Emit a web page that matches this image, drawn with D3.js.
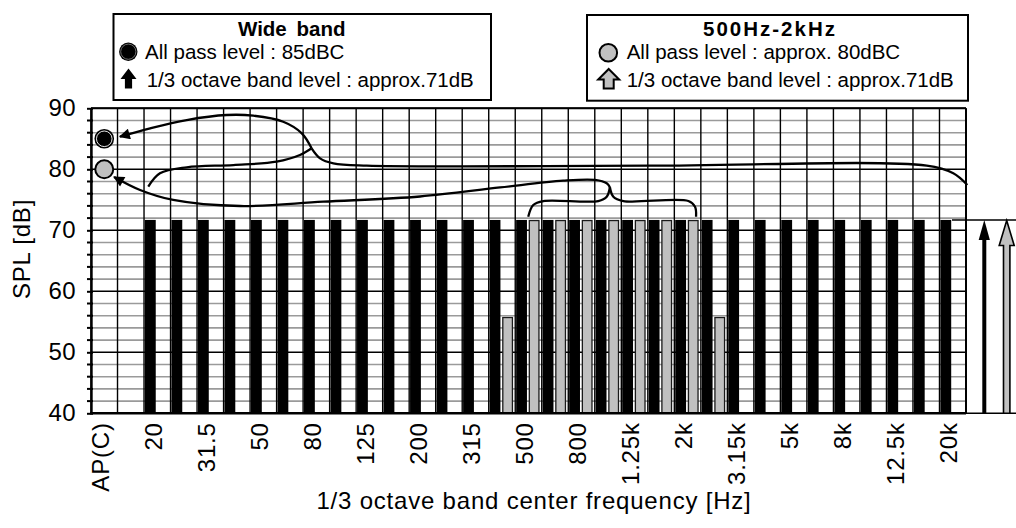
<!DOCTYPE html>
<html><head><meta charset="utf-8">
<script src="https://cdn.jsdelivr.net/npm/d3@7"></script>
<style>
body{margin:0;background:#fff}
svg{display:block}
text{font-family:"Liberation Sans",Arial,Helvetica,sans-serif;fill:#000}
</style>
</head><body>
<svg id="c" width="1016" height="528"></svg>
<script>
// ---------- data ----------
const slots = ["AP(C)", "", "20","25","31.5","40","50","63","80","100","125","160","200","250","315","400","500","630","800","1k","1.25k","1.6k","2k","2.5k","3.15k","4k","5k","6.3k","8k","10k","12.5k","16k","20k"];
const bands = ["20","25","31.5","40","50","63","80","100","125","160","200","250","315","400","500","630","800","1k","1.25k","1.6k","2k","2.5k","3.15k","4k","5k","6.3k","8k","10k","12.5k","16k","20k"];
const tickLabels = ["AP(C)","20","31.5","50","80","125","200","315","500","800","1.25k","2k","3.15k","5k","8k","12.5k","20k"];
const wideBandLevels = [71.7,71.7,71.7,71.7,71.7,71.7,71.7,71.7,71.7,71.7,71.7,71.7,71.7,71.7,71.7,71.7,71.7,71.7,71.7,71.7,71.7,71.7,71.7,71.7,71.7,71.7,71.7,71.7,71.7,71.7,71.7];
const midBandLevels = [null,null,null,null,null,null,null,null,null,null,null,null,null,55.7,71.6,71.6,71.6,71.6,71.6,71.6,71.6,55.7,null,null,null,null,null,null,null,null,null];
const allPassKeys = ["wide","mid"];
const allPassLevels = [85, 80];
const yMajorTicks = [40,50,60,70,80,90];
const yMinorTicks = [42,44,46,48,52,54,56,58,62,64,66,68,72,74,76,78,82,84,86,88];

// annotation curves in (slot position, dB) units
const braceWideLeft = [[2.16,77.15],[2.60,79.34],[3.61,80.33],[5.37,80.70],[7.00,81.25],[7.88,82.34],[8.32,83.44]];
const braceWideRight = [[8.32,83.44],[8.64,81.80],[9.14,80.98],[10.40,80.59],[21.08,80.59],[31.52,80.59],[32.52,79.34],[33.05,77.43]];
const arrowWide = [[8.32,83.44],[7.95,85.90],[7.25,87.80],[6.12,88.79],[5.12,88.90],[3.61,88.08],[2.23,86.72],[1.09,85.34]];
const braceMidLeft = [[16.49,72.23],[16.68,74.15],[17.06,74.80],[19.13,74.80],[19.45,75.51],[19.57,77.05]];
const braceMidRight = [[19.57,77.05],[19.70,75.51],[20.08,74.80],[22.53,74.80],[22.78,73.87],[22.82,72.23]];
const arrowMid = [[19.57,77.05],[19.45,77.70],[19.01,78.25],[17.81,78.13],[15.43,77.02],[12.41,75.54],[8.76,74.69],[5.62,73.98],[3.10,74.97],[1.85,76.61],[0.87,78.74]];

// ---------- layout ----------
const m = {left:91, right:966, top:108.3, bottom:413.3};
const GRAY = "#c0c0c0";
const svg = d3.select("#c");

const x = d3.scaleBand().domain(slots).range([m.left, m.right]).padding(0);
const bw = x.bandwidth();
const xs = d3.scaleBand().domain(["wide","mid"]).range([0, bw*0.95]).paddingInner(0.14).paddingOuter(0.07);
const y = d3.scaleLinear().domain([40,90]).range([m.bottom, m.top]);
const u = d3.scaleLinear().domain([0, slots.length]).range([m.left, m.right]);

// ---------- grid ----------
const grid = svg.append("g");
grid.selectAll("line.minor").data(yMinorTicks).join("line")
  .attr("x1", m.left).attr("x2", m.right)
  .attr("y1", d=>y(d)).attr("y2", d=>y(d))
  .attr("stroke", "#9a9a9a").attr("stroke-width", 1.6);
grid.selectAll("line.v").data(d3.range(slots.length+1)).join("line")
  .attr("x1", d=>u(d)).attr("x2", d=>u(d))
  .attr("y1", m.top).attr("y2", m.bottom)
  .attr("stroke", "#000").attr("stroke-width", 1.4);
grid.selectAll("line.major").data(yMajorTicks).join("line")
  .attr("x1", m.left).attr("x2", m.right)
  .attr("y1", d=>y(d)).attr("y2", d=>y(d))
  .attr("stroke", "#000").attr("stroke-width", 1.6);

// ---------- bars ----------
const bars = svg.append("g");
bars.selectAll("rect.w").data(bands.map((b,i)=>({b, v:wideBandLevels[i]})).filter(d=>d.v!=null)).join("rect")
  .attr("x", d=>x(d.b)+xs("wide")).attr("width", xs.bandwidth())
  .attr("y", d=>y(d.v)).attr("height", d=>y(40)-y(d.v))
  .attr("fill", "#000");
bars.selectAll("rect.m").data(bands.map((b,i)=>({b, v:midBandLevels[i]})).filter(d=>d.v!=null)).join("rect")
  .attr("x", d=>x(d.b)+xs("mid")+0.6).attr("width", xs.bandwidth()-1.2)
  .attr("y", d=>y(d.v)).attr("height", d=>y(40)-y(d.v))
  .attr("fill", GRAY).attr("stroke", "#1a1a1a").attr("stroke-width", 1.3);

// ---------- axes ----------
const ya = svg.append("g").attr("transform", `translate(${m.left},0)`)
  .call(d3.axisLeft(y).tickValues(yMajorTicks).tickSizeInner(4).tickSizeOuter(0).tickPadding(11));
ya.select(".domain").attr("stroke-width", 2.4);
ya.selectAll(".tick line").attr("stroke-width", 2).attr("x2", -4).attr("x1", 2);
ya.selectAll(".tick text").attr("font-size", 24).attr("letter-spacing", 0.4)
  .style("font-family", '"Liberation Sans",Arial,sans-serif').attr("fill", "#000");
svg.append("g").selectAll("line").data(yMinorTicks).join("line")
  .attr("x1", m.left-4).attr("x2", m.left+2).attr("y1", d=>y(d)).attr("y2", d=>y(d))
  .attr("stroke", "#000").attr("stroke-width", 2);
svg.append("line").attr("x1", m.left-1).attr("x2", m.right).attr("y1", y(40)).attr("y2", y(40))
  .attr("stroke", "#000").attr("stroke-width", 2.4);
svg.append("line").attr("x1", m.left).attr("x2", m.right).attr("y1", y(90)).attr("y2", y(90))
  .attr("stroke", "#000").attr("stroke-width", 2);
svg.append("line").attr("x1", m.right).attr("x2", m.right).attr("y1", m.top).attr("y2", m.bottom)
  .attr("stroke", "#000").attr("stroke-width", 2);

svg.append("g").selectAll("text").data(tickLabels).join("text")
  .attr("transform", d=>`translate(${x(d)+bw*0.35},${y(40)+9}) rotate(-90)`)
  .attr("text-anchor", "end").attr("dy", "0.36em")
  .attr("font-size", 24).attr("letter-spacing", 0.8)
  .text(d=>d);

svg.append("text").attr("x", 534).attr("y", 509).attr("text-anchor", "middle")
  .attr("font-size", 24).attr("letter-spacing", 0.8)
  .text("1/3 octave band center frequency [Hz]");
svg.append("text").attr("transform", "translate(21,249) rotate(-90)")
  .attr("text-anchor", "middle").attr("dy", "0.36em")
  .attr("font-size", 24).attr("letter-spacing", 0.8)
  .text("SPL [dB]");

// ---------- annotations ----------
const defs = svg.append("defs");
defs.append("marker").attr("id", "ah").attr("viewBox", "0 0 10 10")
  .attr("refX", 9).attr("refY", 5).attr("markerWidth", 15).attr("markerHeight", 11)
  .attr("markerUnits", "userSpaceOnUse").attr("orient", "auto")
  .append("path").attr("d", "M0,0 L10,5 L0,10 Z").attr("fill", "#000");

const line = d3.line().x(d=>u(d[0])).y(d=>y(d[1])).curve(d3.curveCatmullRom.alpha(0.5));
const ann = svg.append("g").attr("fill", "none").attr("stroke", "#000").attr("stroke-width", 2.3);
[braceWideLeft, braceWideRight, braceMidLeft, braceMidRight].forEach(p=>ann.append("path").attr("d", line(p)));
ann.append("path").attr("d", line(arrowWide)).attr("marker-end", "url(#ah)");
ann.append("path").attr("d", line(arrowMid)).attr("marker-end", "url(#ah)");

// all pass level points
const cx = x(slots[0]) + bw/2;
svg.append("circle").attr("cx", cx).attr("cy", y(allPassLevels[0])).attr("r", 9.8).attr("fill", "#000");
svg.append("circle").attr("cx", cx).attr("cy", y(allPassLevels[0])).attr("r", 7.8).attr("fill", "none").attr("stroke", "#fff").attr("stroke-width", 0.9);
svg.append("circle").attr("cx", cx).attr("cy", y(allPassLevels[1])).attr("r", 9).attr("fill", GRAY).attr("stroke", "#000").attr("stroke-width", 2);

// right side level reference
const lvl = wideBandLevels[0];
svg.append("line").attr("x1", m.right-14).attr("x2", 1016).attr("y1", y(lvl)).attr("y2", y(lvl)).attr("stroke", "#000").attr("stroke-width", 1.4);
svg.append("line").attr("x1", m.right-3).attr("x2", 1016).attr("y1", y(40)).attr("y2", y(40)).attr("stroke", "#000").attr("stroke-width", 1.4);
const ax1 = m.right + 18.3;
svg.append("line").attr("x1", ax1).attr("x2", ax1).attr("y1", y(40)).attr("y2", y(lvl)+18).attr("stroke", "#000").attr("stroke-width", 4);
svg.append("path").attr("d", `M${ax1},${y(lvl)} L${ax1+5.6},${y(lvl)+20} L${ax1-5.6},${y(lvl)+20} Z`).attr("fill", "#000");
const ax2 = m.right + 40.7, t2 = y(lvl)+0.5, hb = t2+25, b2 = y(40);
svg.append("path").attr("d", `M${ax2},${t2} L${ax2+7.5},${hb} L${ax2+3.2},${hb} L${ax2+3.2},${b2} L${ax2-3.2},${b2} L${ax2-3.2},${hb} L${ax2-7.5},${hb} Z`)
  .attr("fill", GRAY).attr("stroke", "#000").attr("stroke-width", 1.6).attr("stroke-linejoin", "miter");

// ---------- legends ----------
function blockArrow(cx, top, bottom, headHalf, shaftHalf, headBase){
  return `M${cx},${top} L${cx+headHalf},${headBase} L${cx+shaftHalf},${headBase} L${cx+shaftHalf},${bottom} L${cx-shaftHalf},${bottom} L${cx-shaftHalf},${headBase} L${cx-headHalf},${headBase} Z`;
}
const lg = svg.append("g");
lg.append("rect").attr("x", 113.5).attr("y", 14).attr("width", 377.5).attr("height", 86).attr("fill", "#fff").attr("stroke", "#000").attr("stroke-width", 2);
lg.append("text").attr("x", 291.7).attr("y", 36).attr("text-anchor", "middle").attr("font-size", 20.5).attr("font-weight", "bold").attr("word-spacing", 4).text("Wide band");
lg.append("circle").attr("cx", 128.3).attr("cy", 51.7).attr("r", 9.2).attr("fill", "#000");
lg.append("circle").attr("cx", 128.3).attr("cy", 51.7).attr("r", 7.6).attr("fill", "none").attr("stroke", "#888").attr("stroke-width", 0.8);
lg.append("text").attr("x", 145).attr("y", 59.3).attr("font-size", 20.5).text("All pass level : 85dBC");
lg.append("path").attr("d", blockArrow(128.5, 68.5, 88.5, 8, 3.6, 79)).attr("fill", "#000");
lg.append("text").attr("x", 146.7).attr("y", 86.7).attr("font-size", 20.5).text("1/3 octave band level : approx.71dB");

lg.append("rect").attr("x", 587).attr("y", 15).attr("width", 381).attr("height", 85.7).attr("fill", "#fff").attr("stroke", "#000").attr("stroke-width", 2);
lg.append("text").attr("x", 770).attr("y", 36).attr("text-anchor", "middle").attr("font-size", 20.5).attr("font-weight", "bold").attr("letter-spacing", 2).text("500Hz-2kHz");
lg.append("circle").attr("cx", 608.3).attr("cy", 52.7).attr("r", 8.8).attr("fill", GRAY).attr("stroke", "#000").attr("stroke-width", 2);
lg.append("text").attr("x", 626.7).attr("y", 59.3).attr("font-size", 20.5).text("All pass level : approx. 80dBC");
lg.append("path").attr("d", blockArrow(608.7, 69, 88.5, 10.5, 5, 79.5)).attr("fill", GRAY).attr("stroke", "#000").attr("stroke-width", 2);
lg.append("text").attr("x", 626.7).attr("y", 86.7).attr("font-size", 20.5).text("1/3 octave band level : approx.71dB");
</script>
</body></html>
